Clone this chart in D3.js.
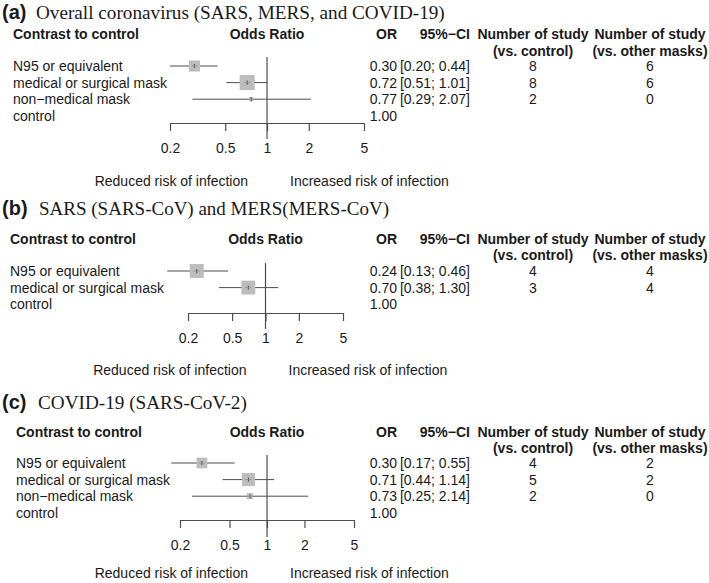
<!DOCTYPE html>
<html>
<head>
<meta charset="utf-8">
<script src="https://cdn.jsdelivr.net/npm/d3@7"></script>
<style>
  body { margin: 0; background: #fff; }
  svg { display: block; }
</style>
</head>
<body>
<div id="chart"></div>
<script>
// data
let tickValues = [0.2, 0.5, 1, 2, 5];

let panelTags = ["(a)", "(b)", "(c)"];
let panelTitles = [
  "Overall coronavirus (SARS, MERS, and COVID-19)",
  "SARS (SARS-CoV) and MERS(MERS-CoV)",
  "COVID-19 (SARS-CoV-2)"
];

// panel a
let groupsA = ["N95 or equivalent", "medical or surgical mask", "non\u2212medical mask", "control"];
let orA = [0.30, 0.72, 0.77, 1.00];
let lowA = [0.20, 0.51, 0.29];
let highA = [0.44, 1.01, 2.07];
let nCtrlA = [8, 8, 2];
let nMaskA = [6, 6, 0];
let weightA = [38, 52, 15];

// panel b
let groupsB = ["N95 or equivalent", "medical or surgical mask", "control"];
let orB = [0.24, 0.70, 1.00];
let lowB = [0.13, 0.38];
let highB = [0.46, 1.30];
let nCtrlB = [4, 3];
let nMaskB = [4, 4];
let weightB = [48, 48];

// panel c
let groupsC = ["N95 or equivalent", "medical or surgical mask", "non\u2212medical mask", "control"];
let orC = [0.30, 0.71, 0.73, 1.00];
let lowC = [0.17, 0.44, 0.25];
let highC = [0.55, 1.14, 2.14];
let nCtrlC = [4, 5, 2];
let nMaskC = [2, 2, 0];
let weightC = [37, 45, 21];

let width = 709, height = 583;
let sans = "'Liberation Sans', Arial, sans-serif";
let serif = "'Liberation Serif', 'Times New Roman', serif";
let lineCol = "#4d4d4d";
let boxCol = "#bdbdbd";
let textCol = "#1a1a1a";
let rowStep = 16.6;
let f2 = d3.format(".2f");
let boxSize = d3.scaleLinear().domain([0, 100]).range([0, 29]);

const svg = d3.select("#chart").append("svg")
    .attr("width", width)
    .attr("height", height)
    .style("font-family", sans)
    .attr("fill", textCol);

let panels = [
  {tag: panelTags[0], title: panelTitles[0], groups: groupsA, or: orA, low: lowA, high: highA, nc: nCtrlA, nm: nMaskA, w: weightA,
   titleY: 12, serifX: 36, titleEnd: 445, headY: 34, subY: 51, row0: 66, axisY: 123, refTop: 57, refBot: 139,
   labY: 148, riskY: 181, range: [170, 364], labelX: 13},
  {tag: panelTags[1], title: panelTitles[1], groups: groupsB, or: orB, low: lowB, high: highB, nc: nCtrlB, nm: nMaskB, w: weightB,
   titleY: 208, serifX: 39, titleEnd: 389, headY: 239, subY: 255, row0: 271, axisY: 313, refTop: 263, refBot: 329,
   labY: 338, riskY: 370, range: [188, 343], labelX: 10},
  {tag: panelTags[2], title: panelTitles[2], groups: groupsC, or: orC, low: lowC, high: highC, nc: nCtrlC, nm: nMaskC, w: weightC,
   titleY: 402, serifX: 38, titleEnd: 247, headY: 432, subY: 448, row0: 463, axisY: 520, refTop: 455, refBot: 537,
   labY: 545, riskY: 573, range: [180, 354], labelX: 16}
];

function txt(g, x, y, s, opts) {
  opts = opts || {};
  return g.append("text")
      .attr("x", x)
      .attr("y", y)
      .attr("dy", "0.35em")
      .attr("text-anchor", opts.anchor || "start")
      .attr("font-weight", opts.bold ? "bold" : null)
      .attr("font-size", opts.size || 14)
      .text(s);
}

panels.forEach(function(p) {
  const g = svg.append("g");
  const x = d3.scaleLog().domain([0.2, 5]).range(p.range);
  const x1 = x(1);

  // title: bold tag + serif text, fitted to its width in the figure
  txt(g, 2, p.titleY, p.tag, {bold: true, size: 20});
  const t = txt(g, p.serifX, p.titleY, p.title, {size: 19}).style("font-family", serif);
  const w = t.node().getComputedTextLength();
  t.attr("font-size", 19 * (p.titleEnd - p.serifX) / w);

  // headers
  txt(g, p.labelX, p.headY, "Contrast to control", {bold: true});
  txt(g, x1, p.headY, "Odds Ratio", {bold: true, anchor: "middle"});
  txt(g, 397, p.headY, "OR", {bold: true, anchor: "end"});
  txt(g, 470, p.headY, "95%\u2212CI", {bold: true, anchor: "end"});
  txt(g, 533, p.headY, "Number of study", {bold: true, anchor: "middle"});
  txt(g, 533, p.subY, "(vs. control)", {bold: true, anchor: "middle"});
  txt(g, 650, p.headY, "Number of study", {bold: true, anchor: "middle"});
  txt(g, 650, p.subY, "(vs. other masks)", {bold: true, anchor: "middle"});

  // reference line at OR = 1
  g.append("line")
      .attr("x1", x1).attr("x2", x1)
      .attr("y1", p.refTop).attr("y2", p.refBot)
      .attr("stroke", lineCol).attr("stroke-width", 1.2);

  p.groups.forEach(function(name, i) {
    const y = p.row0 + i * rowStep;
    txt(g, p.labelX, y, name);
    txt(g, 397, y, f2(p.or[i]), {anchor: "end"});
    if (i >= p.low.length) return;

    txt(g, 470, y, "[" + f2(p.low[i]) + "; " + f2(p.high[i]) + "]", {anchor: "end"});
    txt(g, 533, y, p.nc[i], {anchor: "middle"});
    txt(g, 650, y, p.nm[i], {anchor: "middle"});

    const s = boxSize(p.w[i]);
    const cx = x(p.or[i]);
    g.append("line")
        .attr("x1", x(p.low[i])).attr("x2", x(p.high[i]))
        .attr("y1", y).attr("y2", y)
        .attr("stroke", lineCol).attr("stroke-width", 1);
    g.append("rect")
        .attr("x", cx - s / 2).attr("y", y - s / 2)
        .attr("width", s).attr("height", s)
        .attr("fill", boxCol);
    g.append("line")
        .attr("x1", cx).attr("x2", cx)
        .attr("y1", y - 2).attr("y2", y + 2)
        .attr("stroke", lineCol).attr("stroke-width", 1);
    g.append("line")
        .attr("x1", cx - Math.min(s / 2, 3)).attr("x2", cx + Math.min(s / 2, 3))
        .attr("y1", y).attr("y2", y)
        .attr("stroke", "#8a8a8a").attr("stroke-width", 0.8);
  });

  // x axis with ticks pointing down
  const axis = g.append("g")
      .attr("transform", `translate(0,${p.axisY})`)
      .call(d3.axisBottom(x).tickValues(tickValues).tickFormat(d => String(d)).tickSize(8).tickSizeOuter(0));
  axis.select(".domain").attr("stroke", lineCol).attr("stroke-width", 1.2);
  axis.selectAll(".tick line").attr("stroke", lineCol).attr("stroke-width", 1.2);
  axis.selectAll(".tick text")
      .attr("y", p.labY - p.axisY)
      .attr("dy", "0.35em")
      .attr("fill", textCol)
      .attr("font-size", 14)
      .attr("font-family", sans);

  txt(g, x1 - 19, p.riskY, "Reduced risk of infection", {anchor: "end"});
  txt(g, x1 + 23, p.riskY, "Increased risk of infection");
});
</script>
</body>
</html>
